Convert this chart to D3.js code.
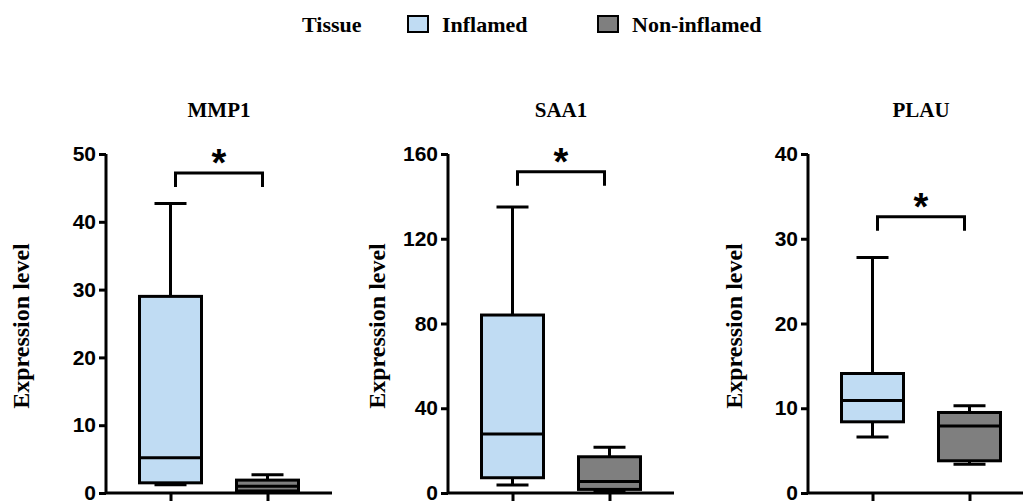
<!DOCTYPE html>
<html lang="en">
<head>
<meta charset="utf-8">
<title>Expression level boxplots</title>
<script src="https://cdn.jsdelivr.net/npm/d3@7"></script>
<style>
body { margin: 0; background: #fff; }
.axis path, .axis line { stroke: #000; stroke-width: 3px; }
.axis text { font-family: "Liberation Sans", Arial, sans-serif; font-weight: bold; font-size: 21px; fill: #000; }
.serif { font-family: "Liberation Serif", "Times New Roman", serif; font-weight: bold; fill: #000; }
</style>
</head>
<body>
<script>
// data
var genes = ["MMP1", "SAA1", "PLAU"];
var groups = ["Inflamed", "Non-inflamed"];
// [min, q1, median, q3, max] per gene
var inflamed = [
    [1.2, 1.5, 5.2, 29.0, 42.7],
    [3.8, 7.2, 27.8, 84.0, 135.0],
    [6.6, 8.4, 10.9, 14.1, 27.8]
];
var nonInflamed = [
    [0.1, 0.3, 1.0, 1.9, 2.7],
    [1.0, 1.7, 5.4, 17.1, 21.6],
    [3.4, 3.8, 7.9, 9.5, 10.3]
];
var yMax = [50, 160, 40];
var yStep = [10, 40, 10];
var bracketY = [47.2, 151.6, 32.6];
var signif = ["*", "*", "*"];

var colors = {"Inflamed": "#c0dcf3", "Non-inflamed": "#7f7f7f"};

//svg size
var w = 1023, h = 501;
var svg = d3.select("body").append("svg")
    .attr("width", w)
    .attr("height", h);

// legend
var legend = svg.append("g");
legend.append("text").attr("class", "serif")
    .attr("x", 302).attr("y", 32)
    .style("font-size", "22px")
    .text("Tissue");
var legX = [408, 598];
groups.forEach(function(g, i) {
    legend.append("rect")
        .attr("x", legX[i]).attr("y", 16)
        .attr("width", 20).attr("height", 16)
        .attr("fill", colors[g])
        .attr("stroke", "#000")
        .attr("stroke-width", 2);
    legend.append("text").attr("class", "serif")
        .attr("x", legX[i] + 34).attr("y", 32)
        .style("font-size", "22px")
        .text(g);
});

// panels
var axisX = [106, 448, 808];
var labelOff = [77, 63, 66];
var plotW = 226;
var yTop = 154, yBottom = 493;
var boxW = 62, capW = 32;

genes.forEach(function(gene, gi) {
    var g = svg.append("g").attr("transform", "translate(" + axisX[gi] + ",0)");

    var x = d3.scalePoint().domain(groups).range([0, plotW]).padding(0.665);
    var y = d3.scaleLinear().domain([0, yMax[gi]]).range([yBottom, yTop]);

    g.append("g").attr("class", "axis")
        .call(d3.axisLeft(y).tickValues(d3.range(0, yMax[gi] + 1, yStep[gi])).tickSize(7).tickPadding(3))
        .call(function(a) { a.select(".domain").attr("d", "M0," + yTop + "V" + yBottom); });

    g.append("g").attr("class", "axis")
        .attr("transform", "translate(0," + yBottom + ")")
        .call(d3.axisBottom(x).tickSize(8).tickFormat(""))
        .call(function(a) { a.select(".domain").attr("d", "M0,0H" + plotW); });

    // title
    g.append("text").attr("class", "serif")
        .attr("x", (x(groups[0]) + x(groups[1])) / 2)
        .attr("y", 117)
        .attr("text-anchor", "middle")
        .style("font-size", "21px")
        .text(gene);

    // y label
    g.append("text").attr("class", "serif")
        .attr("transform", "translate(" + (-labelOff[gi]) + "," + 326 + ") rotate(-90)")
        .attr("text-anchor", "middle")
        .style("font-size", "24px")
        .text("Expression level");

    var stats = [inflamed[gi], nonInflamed[gi]];
    stats.forEach(function(s, k) {
        var cx = x(groups[k]);
        var b = g.append("g")
            .attr("fill", "none")
            .attr("stroke", "#000")
            .attr("stroke-width", 3);
        // whiskers
        b.append("line").attr("x1", cx).attr("x2", cx).attr("y1", y(s[3])).attr("y2", y(s[4]));
        b.append("line").attr("x1", cx).attr("x2", cx).attr("y1", y(s[1])).attr("y2", y(s[0]));
        b.append("line").attr("x1", cx - capW / 2).attr("x2", cx + capW / 2).attr("y1", y(s[4])).attr("y2", y(s[4]));
        b.append("line").attr("x1", cx - capW / 2).attr("x2", cx + capW / 2).attr("y1", y(s[0])).attr("y2", y(s[0]));
        // box
        b.append("rect")
            .attr("x", cx - boxW / 2).attr("width", boxW)
            .attr("y", y(s[3])).attr("height", y(s[1]) - y(s[3]))
            .attr("fill", colors[groups[k]]);
        b.append("line").attr("x1", cx - boxW / 2).attr("x2", cx + boxW / 2).attr("y1", y(s[2])).attr("y2", y(s[2]));
    });

    // significance bracket
    var mid = (x(groups[0]) + x(groups[1])) / 2;
    var half = 43.5;
    var by = y(bracketY[gi]);
    g.append("path")
        .attr("d", "M" + (mid - half) + "," + (by + 14) + "V" + by + "H" + (mid + half) + "V" + (by + 14))
        .attr("fill", "none")
        .attr("stroke", "#000")
        .attr("stroke-width", 3);
    g.append("text")
        .attr("x", mid).attr("y", by + 3)
        .attr("text-anchor", "middle")
        .style("font-family", "'Liberation Sans', Arial, sans-serif")
        .style("font-weight", "bold")
        .style("font-size", "38px")
        .text(signif[gi]);
});
</script>
</body>
</html>
